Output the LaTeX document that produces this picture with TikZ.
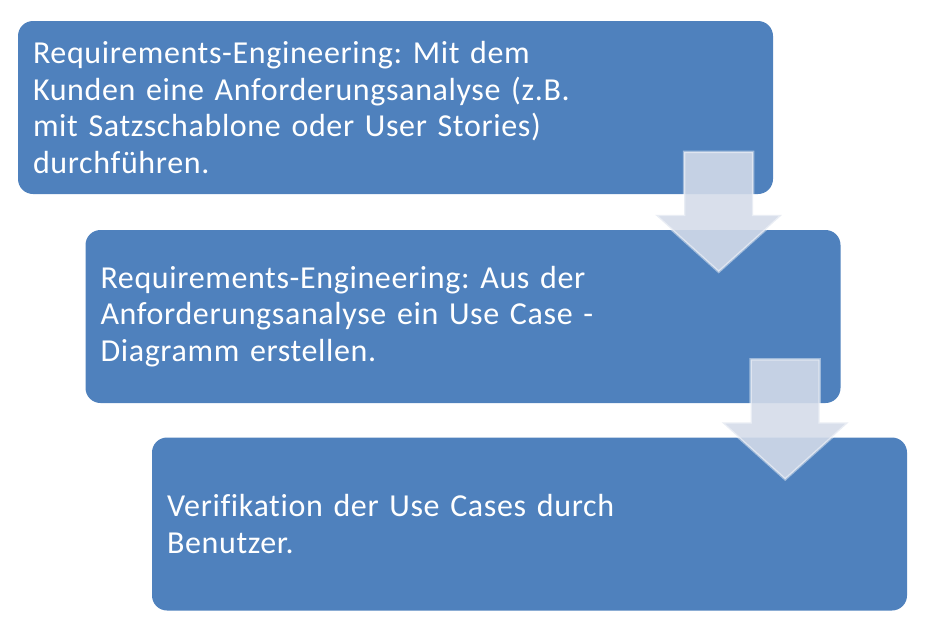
\documentclass[tikz,border=0pt]{standalone}
\usepackage{fontspec}
\setmainfont{Carlito}[LetterSpace=2, Ligatures=NoCommon]
\usetikzlibrary{calc}
\definecolor{stepblue}{RGB}{79,129,189}
\definecolor{arrowfill}{RGB}{212,219,233}
\tikzset{
    stepbox/.style = {fill=stepblue, rectangle, rounded corners=15pt, text=white, minimum width=755pt, minimum height=173pt, text width=725pt, inner xsep=15pt, align=left, font=\fontsize{32}{36.7}\selectfont},
    blockarrow/.style = {fill=arrowfill, fill opacity=0.89, draw=white, draw opacity=0.45, line width=2.5pt, line join=miter},
}
\newcommand\flowarrow[1]{%
    \draw[blockarrow] (#1) -- ++(-63.5,-57) -- ++(29,0) -- ++(0,-63) -- ++(69,0) -- ++(0,63) -- ++(29,0) -- cycle;
}

\begin{document}
\frenchspacing
\begin{tikzpicture}[x=1pt, y=-1pt]
\useasboundingbox (0,0) rectangle (929,629);
\node [stepbox] (anforderung) at (395.5,107.5) {Requirements-Engineering: Mit dem\\Kunden eine Anforderungsanalyse (z.B.\\mit Satzschablone oder User Stories)\\durchführen.};
\node [stepbox] (usecase) at (463,316.5) {Requirements-Engineering: Aus der\\Anforderungsanalyse ein Use Case -\\Diagramm erstellen.};
\node [stepbox] (verifikation) at (529.5,524) {Verifikation der Use Cases durch\\Benutzer.};
% arrows between the steps
\coordinate (tip1) at ($(usecase.north east)+(-122,42)$);
\coordinate (tip2) at ($(verifikation.north east)+(-122,42)$);
\flowarrow{tip1}
\flowarrow{tip2}
\end{tikzpicture}
\end{document}
